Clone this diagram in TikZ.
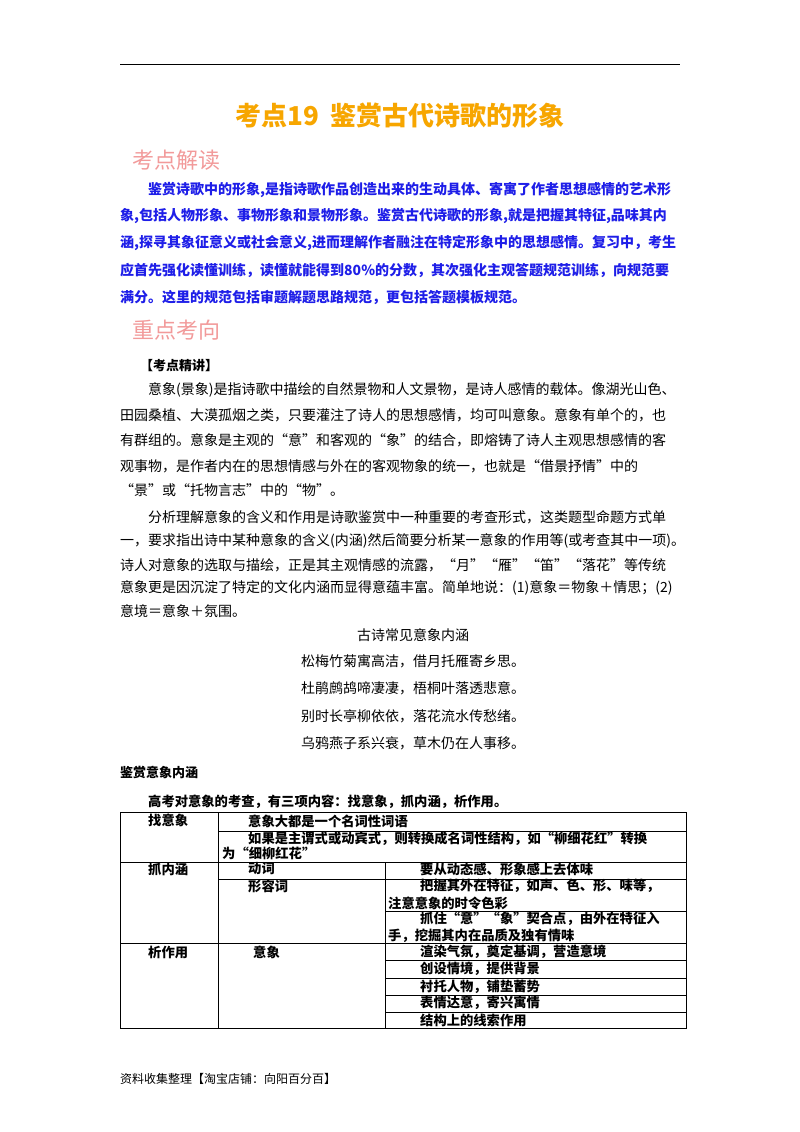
\documentclass[tikz,border=0pt]{standalone}
\usepackage{fontspec}
\setmainfont{Noto Sans CJK SC}
\XeTeXlinebreaklocale "zh"
\XeTeXlinebreakskip=0pt plus 1fil
\definecolor{ttl}{HTML}{F7A600}
\definecolor{pk}{HTML}{F29A9A}
\definecolor{bl}{HTML}{1E1EE8}
\newcommand{\jl}[2]{\makebox[#1pt][s]{#2}}
\tikzset{
  t/.style={anchor=west,inner sep=0pt,font=\fontsize{14}{14}\selectfont},
  tb/.style={t,font=\fontsize{14}{14}\selectfont\bfseries,text=bl},
  tab/.style={t,font=\fontsize{13.3}{13.3}\selectfont\bfseries},
  hd/.style={anchor=west,inner sep=0pt,text=pk,font=\fontsize{22}{22}\selectfont},
  gl/.style={line width=0.6pt}
}
\begin{document}
\begin{tikzpicture}[x=1pt,y=-1pt]
\useasboundingbox (0,0) rectangle (800,1132);
\fill[white] (0,0) rectangle (800,1132);
\draw[line width=1pt] (120,65) -- (680,65);
\node[inner sep=0pt,text=ttl,font=\fontsize{26}{26}\selectfont\bfseries] (title) at (400,116) {考点19\ \ 鉴赏古代诗歌的形象};
\node[hd] (h1) at (132,160) {考点解读};
\node[tb] (b1) at (148,190) {\jl{532}{鉴赏诗歌中的形象,是指诗歌作品创造出来的生动具体、寄寓了作者思想感情的艺术形}};
\node[tb] (b2) at (120,216) {\jl{560}{象,包括人物形象、事物形象和景物形象。鉴赏古代诗歌的形象,就是把握其特征,品味其内}};
\node[tb] (b3) at (120,243) {\jl{560}{涵,探寻其象征意义或社会意义,进而理解作者融注在特定形象中的思想感情。复习中，考生}};
\node[tb] (b4) at (120,270) {\jl{560}{应首先强化读懂训练，读懂就能得到80\%的分数，其次强化主观答题规范训练，向规范要}};
\node[tb] (b5) at (120,297) {满分。这里的规范包括审题解题思路规范，更包括答题模板规范。};
\node[hd] (h2) at (132,330) {重点考向};
\node[t,font=\fontsize{13}{13}\selectfont\bfseries] (k) at (140,366) {【考点精讲】};
\node[t] (p1) at (148,390) {\jl{532}{意象(景象)是指诗歌中描绘的自然景物和人文景物，是诗人感情的载体。像湖光山色、}};
\node[t] (p2) at (120,415) {\jl{560}{田园桑植、大漠孤烟之类，只要灌注了诗人的思想感情，均可叫意象。意象有单个的，也}};
\node[t] (p3) at (120,440) {\jl{560}{有群组的。意象是主观的“意”和客观的“象”的结合，即熔铸了诗人主观思想感情的客}};
\node[t] (p4) at (120,466) {\jl{560}{观事物，是作者内在的思想情感与外在的客观物象的统一，也就是“借景抒情”中的}};
\node[t] (p5) at (120,490) {“景”或“托物言志”中的“物”。};
\node[t] (p6) at (148,517) {\jl{532}{分析理解意象的含义和作用是诗歌鉴赏中一种重要的考查形式，这类题型命题方式单}};
\node[t] (p7) at (120,541) {\jl{560}{一，要求指出诗中某种意象的含义(内涵)然后简要分析某一意象的作用等(或考查其中一项)。}};
\node[t] (p8) at (120,565) {\jl{560}{诗人对意象的选取与描绘，正是其主观情感的流露，“月”“雁”“笛”“落花”等传统}};
\node[t] (p9) at (120,588) {\jl{560}{意象更是因沉淀了特定的文化内涵而显得意蕴丰富。简单地说：(1)意象＝物象＋情思；(2)}};
\node[t] (p10) at (120,611) {意境＝意象＋氛围。};
\tikzset{pm/.style={inner sep=0pt,font=\fontsize{14}{14}\selectfont}}
\node[pm] (q0) at (413,635) {古诗常见意象内涵};
\node[pm] (q1) at (413,661) {松梅竹菊寓高洁，借月托雁寄乡思。};
\node[pm] (q2) at (413,688) {杜鹃鹧鸪啼凄凄，梧桐叶落透悲意。};
\node[pm] (q3) at (413,716) {别时长亭柳依依，落花流水传愁绪。};
\node[pm] (q4) at (413,743) {乌鸦燕子系兴衰，草木仍在人事移。};
\node[t,font=\fontsize{13}{13}\selectfont\bfseries] (s) at (120,772) {鉴赏意象内涵};
\node[tab] (intro) at (148,802) {高考对意象的考查，有三项内容：找意象，抓内涵，析作用。};
% table
\draw[gl] (120,812) rectangle (686,1028);
\draw[gl] (218,812) -- (218,1028);
\draw[gl] (385,862) -- (385,1028);
\draw[gl] (218,831) -- (686,831);
\draw[gl] (120,862) -- (686,862);
\draw[gl] (218,879) -- (686,879);
\draw[gl] (385,911) -- (686,911);
\draw[gl] (120,943) -- (686,943);
\draw[gl] (385,960) -- (686,960);
\draw[gl] (385,978) -- (686,978);
\draw[gl] (385,995) -- (686,995);
\draw[gl] (385,1012) -- (686,1012);
\node[tab] (c1) at (148,820) {找意象};
\node[tab] (c2) at (248,821) {意象大都是一个名词性词语};
\node[tab] (c3) at (248,839) {如果是主谓式或动宾式，则转换成名词性结构，如“柳细花红”转换};
\node[tab] (c4) at (222,853) {为“细柳红花”};
\node[tab] (c5) at (148,869) {抓内涵};
\node[tab] (c6) at (248,869) {动词};
\node[tab] (c7) at (420,869) {要从动态感、形象感上去体味};
\node[tab] (c8) at (248,886) {形容词};
\node[tab] (c9) at (420,886) {把握其外在特征，如声、色、形、味等，};
\node[tab] (c10) at (388,903) {注意意象的时令色彩};
\node[tab] (c11) at (420,919) {抓住“意”“象”契合点，由外在特征入};
\node[tab] (c12) at (388,936) {手，挖掘其内在品质及独有情味};
\node[tab] (c13) at (148,952) {析作用};
\node[tab] (c14) at (253,952) {意象};
\node[tab] (c15) at (420,952) {渲染气氛，奠定基调，营造意境};
\node[tab] (c16) at (420,969) {创设情境，提供背景};
\node[tab] (c17) at (420,987) {衬托人物，铺垫蓄势};
\node[tab] (c18) at (420,1003) {表情达意，寄兴寓情};
\node[tab] (c19) at (420,1020) {结构上的线索作用};
\node[t,font=\fontsize{12}{12}\selectfont] (f) at (120,1079) {资料收集整理【淘宝店铺：向阳百分百】};
\end{tikzpicture}
\end{document}
